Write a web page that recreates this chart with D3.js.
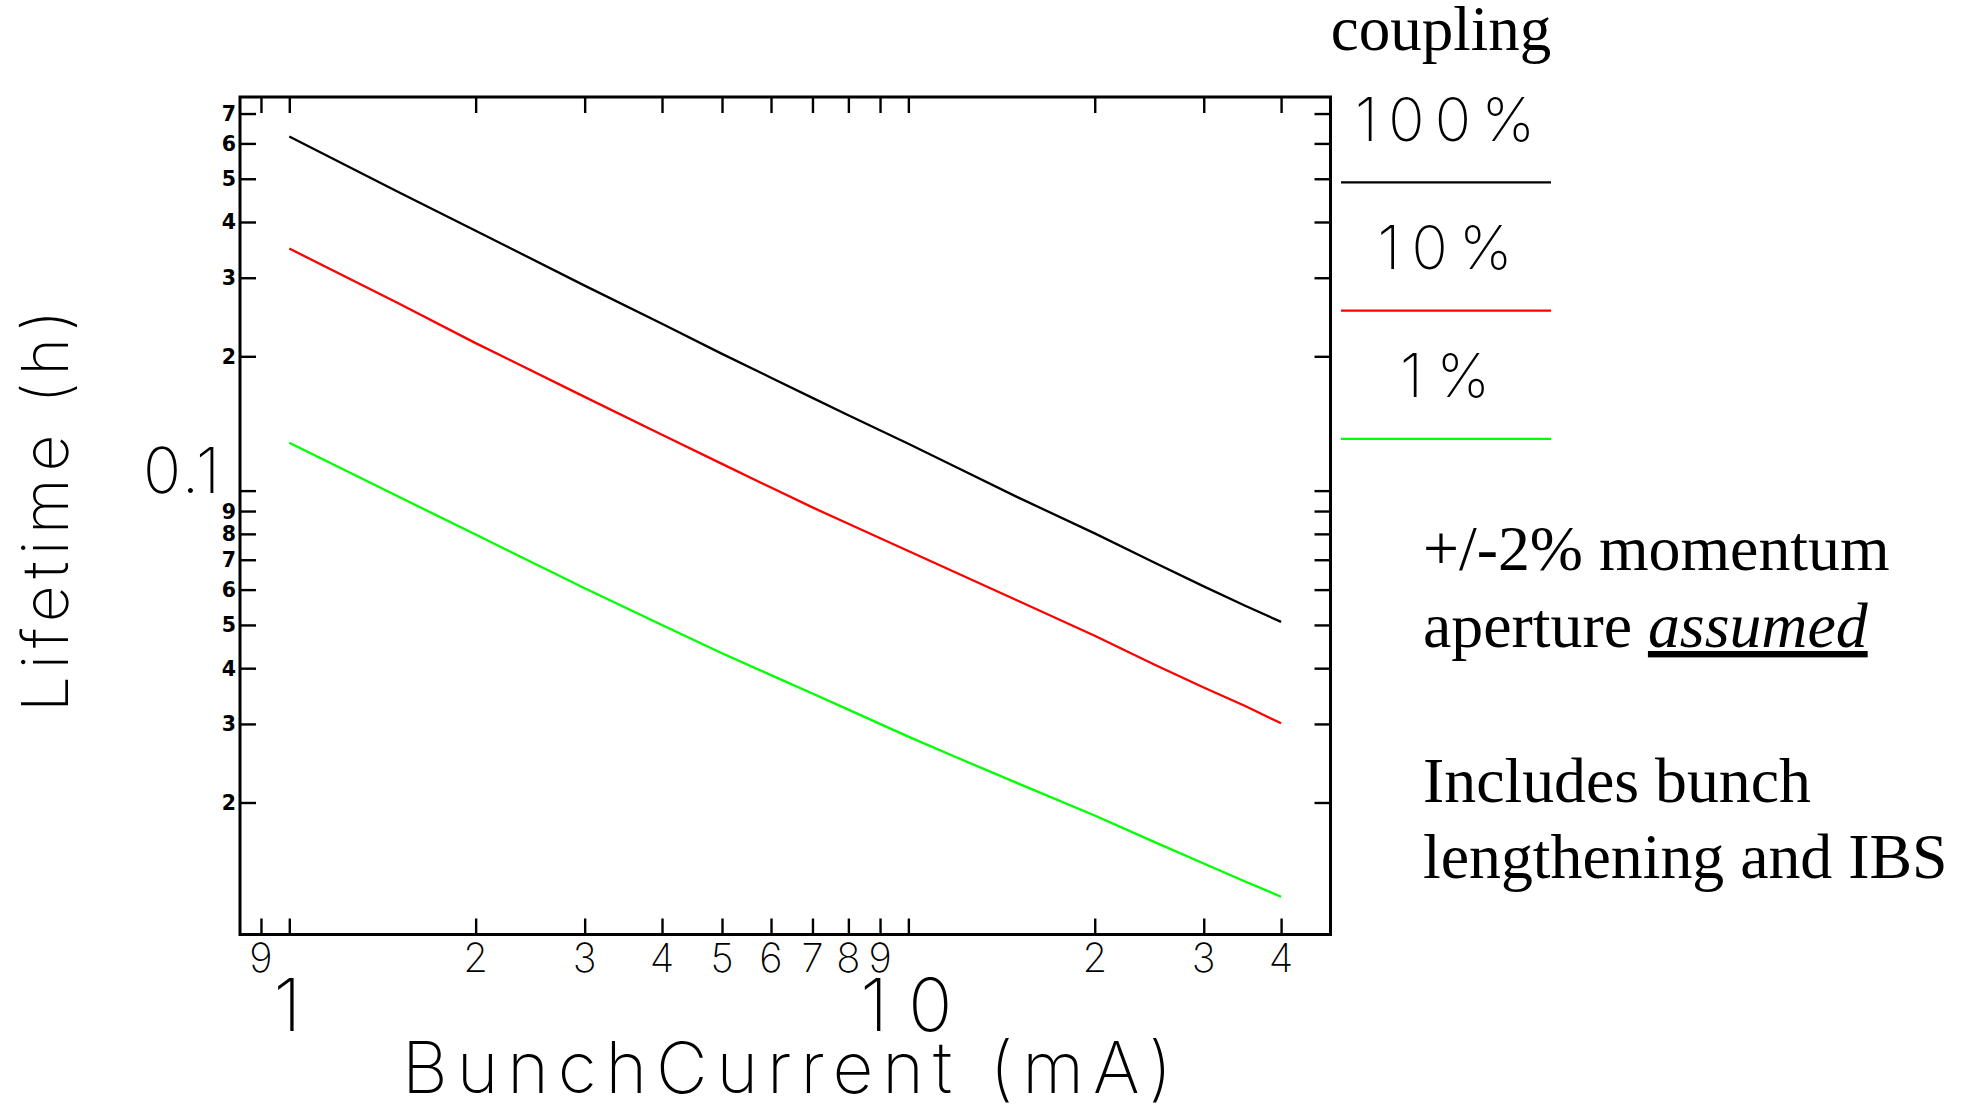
<!DOCTYPE html>
<html>
<head>
<meta charset="utf-8">
<script src="https://cdn.jsdelivr.net/npm/d3@7"></script>
<style>
  html, body { margin: 0; padding: 0; background: #fff; }
  svg { display: block; }
</style>
</head>
<body>
<svg id="chart" width="1966" height="1112"></svg>
<script>
// Touschek lifetime vs bunch current, for three coupling values
const currents     = [1, 1.5, 2, 3, 4, 5, 6, 7, 8, 10, 12, 15, 20, 25, 30, 35, 40];
const lifetime100  = [0.622, 0.467, 0.3825, 0.2880, 0.2366, 0.2025, 0.1791, 0.1614, 0.1475, 0.1274, 0.1125, 0.0967, 0.0802, 0.0689, 0.0610, 0.0552, 0.0508];
const lifetime10   = [0.3488, 0.2630, 0.2141, 0.1622, 0.1334, 0.1148, 0.1016, 0.0917, 0.0843, 0.0732, 0.0653, 0.0567, 0.0473, 0.0407, 0.0362, 0.0329, 0.0301];
const lifetime1    = [0.1280, 0.0970, 0.0797, 0.0604, 0.0500, 0.0432, 0.0386, 0.0351, 0.0323, 0.0281, 0.0252, 0.0221, 0.0187, 0.0163, 0.0146, 0.0133, 0.0123];

const couplingLabels = ["100%", "10%", "1%"];
const seriesColors   = ["#000000", "#ff0000", "#00ff00"];

const xMinorTicks = [0.9, 2, 3, 4, 5, 6, 7, 8, 9, 20, 30, 40];
const xMajorTicks = [1, 10];
const yMinorTicks = [0.02, 0.03, 0.04, 0.05, 0.06, 0.07, 0.08, 0.09, 0.2, 0.3, 0.4, 0.5, 0.6, 0.7];
const yMajorTicks = [0.1];

const notes = [
  { text: "+/-2% momentum", line: 0 },
  { text: "aperture ", italic: "assumed", line: 1 },
  { text: "Includes bunch", line: 3 },
  { text: "lengthening and IBS", line: 4 }
];

const seriesValues = [lifetime100, lifetime10, lifetime1];

// ---- layout ----
const frame = { left: 240, right: 1330.5, top: 97, bottom: 934.5 };
const strokeFont = "Inter, 'DejaVu Sans', sans-serif";
const serifFont = "'Liberation Serif', 'Times New Roman', serif";

const svg = d3.select("#chart");

const x = d3.scaleLog().domain([0.8325, 48.07]).range([frame.left, frame.right]);
const y = d3.scaleLog().domain([0.01012, 0.7624]).range([frame.bottom, frame.top]);

const allXTicks = xMinorTicks.concat(xMajorTicks).sort(d3.ascending);
const allYTicks = yMinorTicks.concat(yMajorTicks).sort(d3.ascending);
const tickLen = 16;

// inward ticks on all four sides
function styleAxis(g) {
  g.select(".domain").remove();
  g.selectAll(".tick line").attr("stroke", "#000").attr("stroke-width", 2.4);
  g.selectAll(".tick text").remove();
}
svg.append("g").attr("transform", `translate(0,${frame.bottom})`)
  .call(d3.axisBottom(x).tickValues(allXTicks).tickSizeInner(-tickLen).tickSizeOuter(0).tickFormat(""))
  .call(styleAxis);
svg.append("g").attr("transform", `translate(0,${frame.top})`)
  .call(d3.axisTop(x).tickValues(allXTicks).tickSizeInner(-tickLen).tickSizeOuter(0).tickFormat(""))
  .call(styleAxis);
svg.append("g").attr("transform", `translate(${frame.left},0)`)
  .call(d3.axisLeft(y).tickValues(allYTicks).tickSizeInner(-tickLen).tickSizeOuter(0).tickFormat(""))
  .call(styleAxis);
svg.append("g").attr("transform", `translate(${frame.right},0)`)
  .call(d3.axisRight(y).tickValues(allYTicks).tickSizeInner(-tickLen).tickSizeOuter(0).tickFormat(""))
  .call(styleAxis);

// frame
svg.append("rect")
  .attr("x", frame.left).attr("y", frame.top)
  .attr("width", frame.right - frame.left).attr("height", frame.bottom - frame.top)
  .attr("fill", "none").attr("stroke", "#000").attr("stroke-width", 3);

// curves
const line = d3.line().x(d => x(d[0])).y(d => y(d[1]));
seriesValues.forEach((vals, i) => {
  svg.append("path")
    .datum(currents.map((c, k) => [c, vals[k]]))
    .attr("d", line)
    .attr("fill", "none")
    .attr("stroke", seriesColors[i])
    .attr("stroke-width", 2.3)
    .attr("stroke-linejoin", "round");
});

const leadDigit = v => String(Math.round(v / Math.pow(10, Math.floor(Math.log10(v) + 1e-9))));

// x tick labels
svg.append("g").selectAll("text").data(xMinorTicks).join("text")
  .attr("x", d => x(d)).attr("y", 972)
  .attr("text-anchor", "middle")
  .attr("font-family", strokeFont).attr("font-weight", 200).attr("font-size", 40)
  .text(leadDigit);
svg.append("g").selectAll("text").data(xMajorTicks).join("text")
  .attr("x", d => x(d) - 2).attr("y", 1031)
  .attr("text-anchor", "middle")
  .attr("font-family", strokeFont).attr("font-weight", 200).attr("font-size", 73)
  .attr("textLength", d => String(d).length > 1 ? 92 : null)
  .attr("lengthAdjust", "spacing")
  .text(d => String(d));

// y tick labels
svg.append("g").selectAll("text").data(yMinorTicks).join("text")
  .attr("x", 236).attr("y", d => y(d) + 7.5)
  .attr("text-anchor", "end")
  .attr("font-family", "'DejaVu Sans', sans-serif").attr("font-weight", "bold").attr("font-size", 20.5)
  .text(leadDigit);
svg.append("g").selectAll("text").data(yMajorTicks).join("text")
  .attr("x", 220).attr("y", d => y(d) + 2)
  .attr("text-anchor", "end")
  .attr("font-family", strokeFont).attr("font-weight", 200).attr("font-size", 63)
  .attr("textLength", 77).attr("lengthAdjust", "spacing")
  .text(d => String(d));

// axis titles
svg.append("text")
  .attr("x", 402).attr("y", 1093)
  .attr("font-family", strokeFont).attr("font-weight", 200).attr("font-size", 71)
  .attr("textLength", 770).attr("lengthAdjust", "spacing")
  .text("BunchCurrent (mA)");
svg.append("text")
  .attr("transform", "translate(68,712) rotate(-90)")
  .attr("font-family", strokeFont).attr("font-weight", 200).attr("font-size", 64)
  .attr("textLength", 402).attr("lengthAdjust", "spacing")
  .text("Lifetime (h)");

// legend
const legendCx = 1445;
svg.append("text")
  .attr("x", 1441).attr("y", 50)
  .attr("text-anchor", "middle")
  .attr("font-family", serifFont).attr("font-size", 63)
  .text("coupling");
couplingLabels.forEach((lab, i) => {
  const base = 140.7 + i * 128.3;
  svg.append("text")
    .attr("x", legendCx).attr("y", base)
    .attr("text-anchor", "middle")
    .attr("font-family", strokeFont).attr("font-weight", 200).attr("font-size", 60)
    .attr("textLength", 45 * lab.length).attr("lengthAdjust", "spacing")
    .text(lab);
  svg.append("line")
    .attr("x1", 1341).attr("x2", 1551)
    .attr("y1", base + 41.6).attr("y2", base + 41.6)
    .attr("stroke", seriesColors[i]).attr("stroke-width", 2.2);
});

// annotation text
const lineY = [570, 647, 725, 802, 878];
notes.forEach(n => {
  const t = svg.append("text")
    .attr("x", 1423).attr("y", lineY[n.line])
    .attr("font-family", serifFont).attr("font-size", 63.8);
  t.append("tspan").text(n.text);
  if (n.italic) {
    t.append("tspan").attr("font-style", "italic").attr("text-decoration", "underline").text(n.italic);
  }
});
</script>
</body>
</html>
